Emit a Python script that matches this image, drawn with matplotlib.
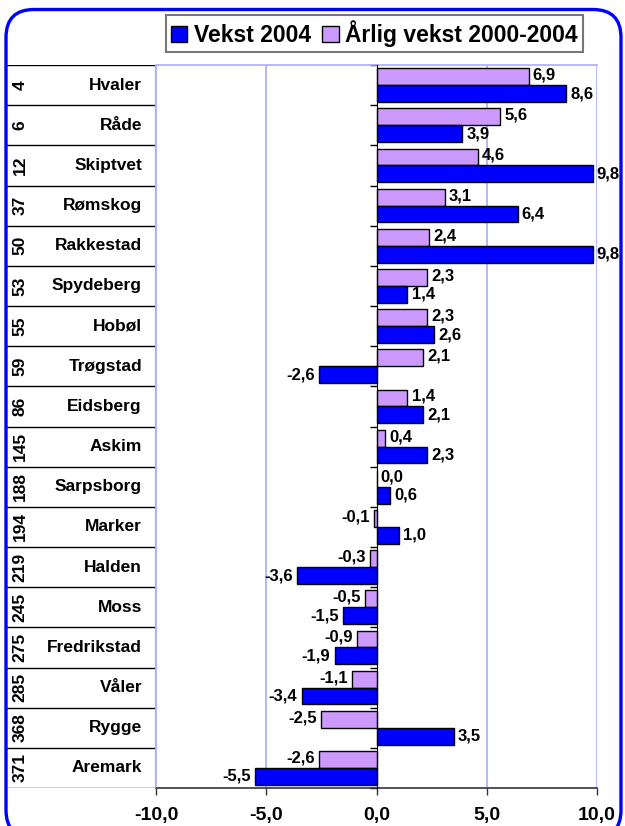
import numpy as np
import matplotlib
matplotlib.use("Agg")
import matplotlib.pyplot as plt
from matplotlib.patches import Patch, FancyBboxPatch

plt.rcParams['font.family'] = ['Liberation Sans', 'DejaVu Sans']
plt.rcParams['font.weight'] = 'bold'

kommuner = ["Hvaler", "Råde", "Skiptvet", "Rømskog", "Rakkestad", "Spydeberg",
            "Hobøl", "Trøgstad", "Eidsberg", "Askim", "Sarpsborg", "Marker",
            "Halden", "Moss", "Fredrikstad", "Våler", "Rygge", "Aremark"]
rang = [4, 6, 12, 37, 50, 53, 55, 59, 86, 145, 188, 194, 219, 245, 275, 285, 368, 371]
arlig_vekst = [6.9, 5.6, 4.6, 3.1, 2.4, 2.3, 2.3, 2.1, 1.4, 0.4, 0.0, -0.1,
               -0.3, -0.5, -0.9, -1.1, -2.5, -2.6]
vekst_2004 = [8.6, 3.9, 9.8, 6.4, 9.8, 1.4, 2.6, -2.6, 2.1, 2.3, 0.6, 1.0,
              -3.6, -1.5, -1.9, -3.4, 3.5, -5.5]
x_ticks = [-10, -5, 0, 5, 10]

W, H = 625, 826
fig = plt.figure(figsize=(W / 100, H / 100), dpi=100)

# rounded blue frame around everything
frame = FancyBboxPatch((0.06, -0.12), 6.15, 8.285,
                       boxstyle="round,pad=0,rounding_size=0.28",
                       transform=fig.dpi_scale_trans, fill=False,
                       edgecolor='#0000ff', linewidth=2.4, clip_on=False)
fig.patches.append(frame)

top_px, bot_px = 65, 788
ax = fig.add_axes([156 / W, 1 - bot_px / H, (597 - 156) / W, (bot_px - top_px) / H])
tab = fig.add_axes([7 / W, 1 - bot_px / H, (156 - 7) / W, (bot_px - top_px) / H], sharey=ax)

n = len(kommuner)
y = np.arange(n)
h = 0.42
lilla = '#cc99ff'
bla = '#0000ff'

b1 = ax.barh(y - h / 2, arlig_vekst, height=h, color=lilla, edgecolor='black', linewidth=1, zorder=3)
b2 = ax.barh(y + h / 2, vekst_2004, height=h, color=bla, edgecolor='black', linewidth=1, zorder=3)

def fmt(v):
    return f"{v:.1f}".replace(".", ",")

for bars, vals, dy in [(b1, arlig_vekst, -0.04), (b2, vekst_2004, 0.0)]:
    for bar, v in zip(bars, vals):
        yc = bar.get_y() + bar.get_height() / 2 + dy
        if v >= 0:
            ax.annotate(fmt(v), (v, yc), xytext=(3, 0), textcoords='offset points',
                        ha='left', va='center', fontsize=12, fontweight='bold')
        else:
            ax.annotate(fmt(v), (v, yc), xytext=(-3, 0), textcoords='offset points',
                        ha='right', va='center', fontsize=12, fontweight='bold')

ax.set_xlim(-10, 10)
ax.set_ylim(n - 0.5, -0.5)
ax.set_xticks(x_ticks)
ax.set_xticklabels([fmt(t) for t in x_ticks], fontsize=14, fontweight='bold')
ax.tick_params(axis='x', direction='out', length=5, width=1, color='#333333', pad=9)
for t in [-10, -5, 5, 10]:
    ax.axvline(t, color='#aaaaff', linewidth=1.2, zorder=1)

# y axis at zero with ticks at row boundaries
ax.spines['left'].set_position(('data', 0))
ax.spines['left'].set_color('black')
ax.spines['left'].set_zorder(4)
ax.set_yticks(np.arange(n + 1) - 0.5)
ax.set_yticklabels([])
ax.tick_params(axis='y', direction='out', length=5, width=1, color='black')
ax.spines['right'].set_visible(False)
ax.spines['top'].set_color('#aaaaff')
ax.spines['top'].set_linewidth(1.2)
ax.spines['bottom'].set_color('#333333')
ax.spines['bottom'].set_linewidth(1.2)

# table with rank and name at the left
tab.set_xlim(0, 1)
tab.axis('off')
for b in np.arange(n + 1) - 0.5:
    tab.axhline(b, color='black', linewidth=1)
tab.axvline(1, color='#aaaaff', linewidth=1.5)
for i in range(n):
    tab.text(13 / 149, i, str(rang[i]), rotation=90, ha='center', va='center',
             fontsize=12.5, fontweight='bold')
    tab.text(135 / 149, i, kommuner[i], ha='right', va='center',
             fontsize=12.5, fontweight='bold')

handles = [Patch(facecolor=bla, edgecolor='black', linewidth=1, label='Vekst 2004'),
           Patch(facecolor=lilla, edgecolor='black', linewidth=1, label='Årlig vekst 2000-2004')]
leg = fig.legend(handles=handles, loc='center', bbox_to_anchor=(374.5 / W, 1 - 33.5 / H),
                 ncol=2, prop={'weight': 'bold', 'size': 16.5},
                 frameon=True, fancybox=False, handlelength=0.7, handleheight=0.7,
                 handletextpad=0.3, columnspacing=0.5, borderpad=0.2, borderaxespad=0)
leg.get_frame().set_edgecolor('#555555')
leg.get_frame().set_linewidth(1.5)

fig.savefig("out.png", dpi=100)
